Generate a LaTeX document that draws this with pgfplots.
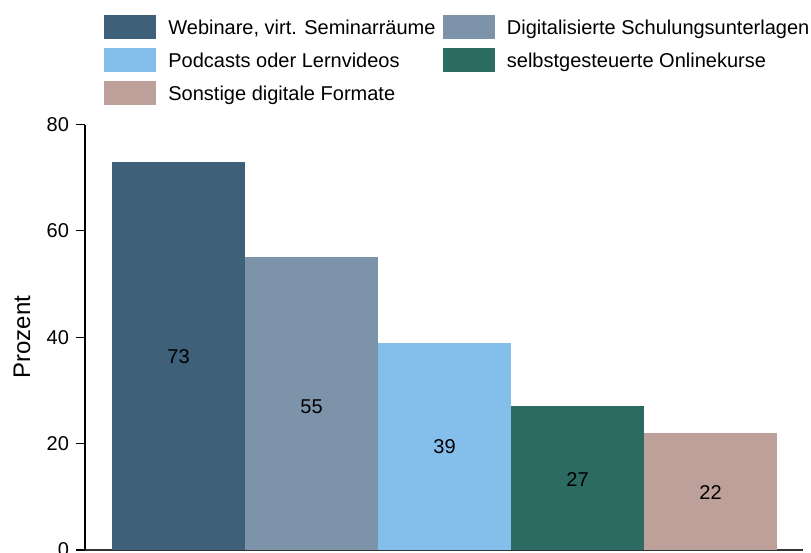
\documentclass[border=0pt]{standalone}
\usepackage{fontspec}
\setmainfont{Liberation Sans}
\usepackage{pgfplots}
\pgfplotsset{compat=1.18}
\definecolor{c1}{HTML}{3F6079}
\definecolor{c2}{HTML}{7D93AA}
\definecolor{c3}{HTML}{83BFEA}
\definecolor{c4}{HTML}{2C6B62}
\definecolor{c5}{HTML}{BDA099}
\definecolor{axgray}{HTML}{333333}
\pgfplotsset{sq/.style={legend image code/.code={\fill[#1] (0pt,-6pt) rectangle (26pt,6pt);}}}
\begin{document}
\begin{tikzpicture}
\begin{axis}[
  at={(0,0)}, anchor=south west,
  scale only axis, width=359pt, height=212.75pt,
  xmin=-0.703, xmax=4.695, ymin=0, ymax=80,
  axis x line*=bottom, axis y line*=left,
  x axis line style={axgray, line width=1pt},
  y axis line style={black, line width=0.6pt},
  xtick=\empty,
  ytick={0,20,40,60,80},
  tick align=outside, major tick length=4.5pt,
  ytick style={black, line width=0.6pt},
  yticklabel style={font=\fontsize{10}{12}\selectfont},
  /pgf/number format/assume math mode=true,
  ylabel={Prozent},
  every axis y label/.style={at={(axis description cs:-0.0877,0.5)}, rotate=90, anchor=center, font=\fontsize{12}{14}\selectfont},
  legend columns=2,
  legend cell align=left,
  legend style={draw=none, fill=none, inner xsep=0pt, inner ysep=0pt,
    at={(axis description cs:0.02646,1.2573)}, anchor=north west,
    nodes={inner sep=0pt, text depth=0pt, font=\fontsize{10}{12}\selectfont},
    column sep=6pt, row sep=4.5pt,
    /tikz/every even column/.append style={column sep=3.7pt}},
]
\addplot[ybar, bar width=1, bar shift=0pt, fill=c1, draw=none, sq=c1] coordinates {(0,73)};
\addlegendentry{Webinare, virt. Seminarräume}
\addplot[ybar, bar width=1, bar shift=0pt, fill=c2, draw=none, sq=c2] coordinates {(1,55)};
\addlegendentry{Digitalisierte Schulungsunterlagen}
\addplot[ybar, bar width=1, bar shift=0pt, fill=c3, draw=none, sq=c3] coordinates {(2,39)};
\addlegendentry{Podcasts oder Lernvideos}
\addplot[ybar, bar width=1, bar shift=0pt, fill=c4, draw=none, sq=c4] coordinates {(3,27)};
\addlegendentry{selbstgesteuerte Onlinekurse}
\addplot[ybar, bar width=1, bar shift=0pt, fill=c5, draw=none, sq=c5] coordinates {(4,22)};
\addlegendentry{Sonstige digitale Formate}
\addplot[forget plot, only marks, mark=none, nodes near coords, point meta=explicit symbolic,
  every node near coord/.style={anchor=center, font=\fontsize{10}{12}\selectfont, black}]
  coordinates {(0,36.3) [73] (1,27) [55] (2,19.4) [39] (3,13.3) [27] (4,10.9) [22]};
\end{axis}
\pgfresetboundingbox
\useasboundingbox (-42.5pt,-1.5pt) rectangle (363pt,275pt);
\end{tikzpicture}
\end{document}
